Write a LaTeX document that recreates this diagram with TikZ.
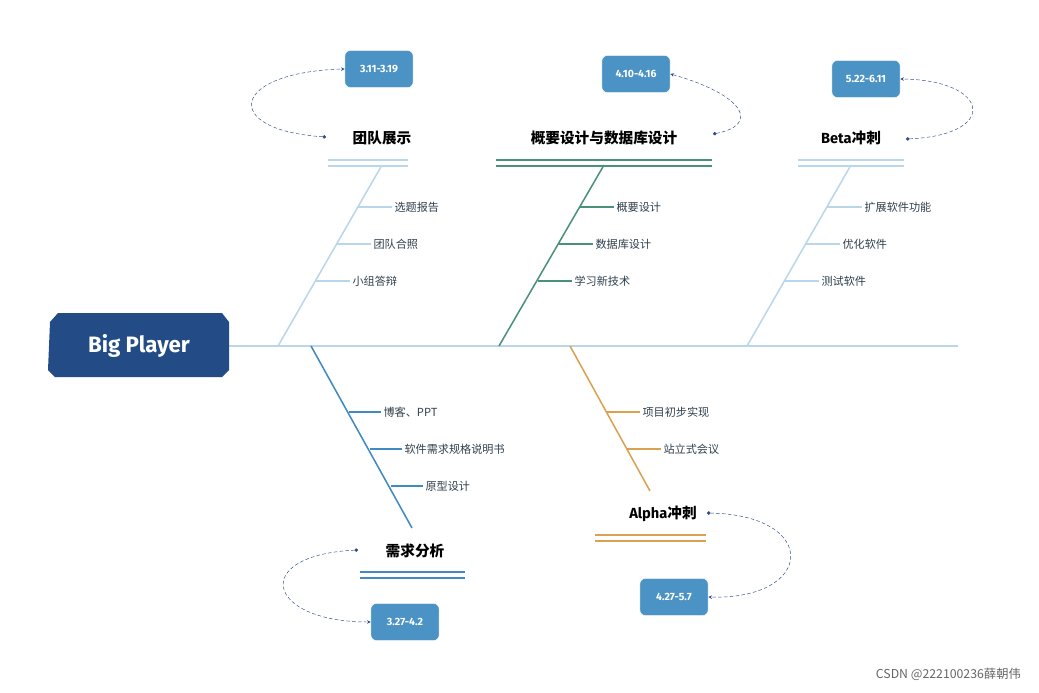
\documentclass[tikz,border=0pt]{standalone}
\usepackage{fontspec}
\setmainfont{Noto Sans CJK SC}
\newfontfamily\latinBold{Fira Sans}
\usepackage{xcolor}
\definecolor{headDark}{HTML}{234B86}
\definecolor{spineColor}{HTML}{BAD6EA}
\definecolor{greenColor}{HTML}{4A917B}
\definecolor{blueColor}{HTML}{3F8AC2}
\definecolor{orangeColor}{HTML}{D9A150}
\definecolor{dateColor}{HTML}{4A93C4}
\definecolor{dotColor}{HTML}{2D4E85}
\definecolor{subText}{HTML}{2F3F4C}
\usetikzlibrary{arrows.meta,positioning,calc}
\tikzset{
  titleNode/.style={
    font=\fontsize{12.5}{14}\selectfont\bfseries,
    text=black
 },
  subNode/.style={
    anchor=west,
    inner sep=2pt,
    font=\fontsize{9.5}{11}\selectfont,
    text=subText
 },
  dateBox/.style={
    rectangle,
    rounded corners=5pt,
    fill=dateColor,
    draw=white,
    minimum width=2.05cm,
    minimum height=1.12cm,
    text=white,
    font=\latinBold\fontsize{9}{10}\selectfont\bfseries
 },
  dateLink/.style={
    densely dashed,
    dotColor,
    thin,
    {Circle[length=3pt]}-{Stealth[length=3pt,width=3pt]}
 },
  bone/.style={line width=1.3pt},
  twig/.style={line width=1.1pt}
}

\begin{document}
\begin{tikzpicture}[x=0.03cm,y=-0.03cm]
\useasboundingbox (0,0) rectangle (1039,692);

% spine and head
\draw[spineColor, line width=1.3pt] (228,346) -- (958,346);
\fill[headDark] (58,313) -- (222,313) -- (229,322) -- (229,370) -- (222,377)
  -- (55,377) -- (48,370) -- (50,322) -- cycle;
\node[text=white, font=\latinBold\fontsize{19}{22}\selectfont\bfseries] (head) at (139,346) {Big Player};

% team show
\coordinate (b1a) at (278,346);
\coordinate (b1b) at (382,165);
\draw[spineColor, bone] (b1a) -- (b1b);
\draw[spineColor, bone] (328,160) -- (408,160) (328,166) -- (408,166);
\node[titleNode] (t1) at (382,138) {团队展示};
\node[subNode] (s11) at (392,207) {选题报告};
\node[subNode] (s12) at (371,244) {团队合照};
\node[subNode] (s13) at (350,281) {小组答辩};
\draw[spineColor, twig] (357,207) -- (s11.west);
\draw[spineColor, twig] (336,244) -- (s12.west);
\draw[spineColor, twig] (316,281) -- (s13.west);
\node[dateBox] (d1) at (379,69) {3.11-3.19};
\coordinate (p1) at (326,137);
\draw[dateLink] (p1) .. controls (220,130) and (230,72) .. (d1.west);

% outline design
\coordinate (b2a) at (499,346);
\coordinate (b2b) at (604,165);
\draw[greenColor, bone] (b2a) -- (b2b);
\draw[greenColor, bone] (496,160) -- (712,160) (496,166) -- (712,166);
\node[titleNode] (t2) at (604,138) {概要设计与数据库设计};
\node[subNode] (s21) at (614,207) {概要设计};
\node[subNode] (s22) at (593,244) {数据库设计};
\node[subNode] (s23) at (572,281) {学习新技术};
\draw[greenColor, twig] (580,207) -- (s21.west);
\draw[greenColor, twig] (559,244) -- (s22.west);
\draw[greenColor, twig] (538,281) -- (s23.west);
\node[dateBox] (d2) at (636,74) {4.10-4.16};
\coordinate (p2) at (713,134);
\draw[dateLink] (p2) .. controls (760,125) and (745,95) .. (d2.east);

% beta
\coordinate (b3a) at (747,346);
\coordinate (b3b) at (851,165);
\draw[spineColor, bone] (b3a) -- (b3b);
\draw[spineColor, bone] (798,160) -- (904,160) (798,166) -- (904,166);
\node[titleNode, font=\latinBold\fontsize{12.5}{14}\selectfont\bfseries] (t3) at (851,138) {Beta\fontspec{Noto Sans CJK SC}\bfseries 冲刺};
\node[subNode] (s31) at (862,207) {扩展软件功能};
\node[subNode] (s32) at (840,244) {优化软件};
\node[subNode] (s33) at (819,281) {测试软件};
\draw[spineColor, twig] (827,207) -- (s31.west);
\draw[spineColor, twig] (806,244) -- (s32.west);
\draw[spineColor, twig] (785,281) -- (s33.west);
\node[dateBox] (d3) at (866,79) {5.22-6.11};
\coordinate (p3) at (906,139);
\draw[dateLink] (p3) .. controls (1000,135) and (990,80) .. (d3.east);

% requirement analysis
\coordinate (b4a) at (311,346);
\coordinate (b4b) at (412,528);
\draw[blueColor, bone] (b4a) -- (b4b);
\draw[blueColor, bone] (360,572) -- (465,572) (360,578) -- (465,578);
\node[titleNode] (t4) at (415,551) {需求分析};
\node[subNode] (s41) at (381,412) {博客、PPT};
\node[subNode] (s42) at (402,449) {软件需求规格说明书};
\node[subNode] (s43) at (423,486) {原型设计};
\draw[blueColor, twig] (349,412) -- (s41.west);
\draw[blueColor, twig] (370,449) -- (s42.west);
\draw[blueColor, twig] (391,486) -- (s43.west);
\node[dateBox] (d4) at (405,622) {3.27-4.2};
\coordinate (p4) at (358,550);
\draw[dateLink] (p4) .. controls (250,555) and (265,622) .. (d4.west);

% alpha
\coordinate (b5a) at (570,346);
\coordinate (b5b) at (650,491);
\draw[orangeColor, bone] (b5a) -- (b5b);
\draw[orangeColor, bone] (595,535) -- (706,535) (595,541) -- (706,541);
\node[titleNode, font=\latinBold\fontsize{12.5}{14}\selectfont\bfseries] (t5) at (663,514) {Alpha\fontspec{Noto Sans CJK SC}\bfseries 冲刺};
\node[subNode] (s51) at (640,412) {项目初步实现};
\node[subNode] (s52) at (661,449) {站立式会议};
\draw[orangeColor, twig] (607,412) -- (s51.west);
\draw[orangeColor, twig] (627,449) -- (s52.west);
\node[dateBox] (d5) at (674,597) {4.27-5.7};
\coordinate (p5) at (707,513);
\draw[dateLink] (p5) .. controls (820,515) and (815,600) .. (d5.east);

% watermark
\node[anchor=east, text=black!60, font=\fontsize{10.5}{12}\selectfont] (mark) at (1025,674) {CSDN @222100236薛朝伟};
\end{tikzpicture}
\end{document}
